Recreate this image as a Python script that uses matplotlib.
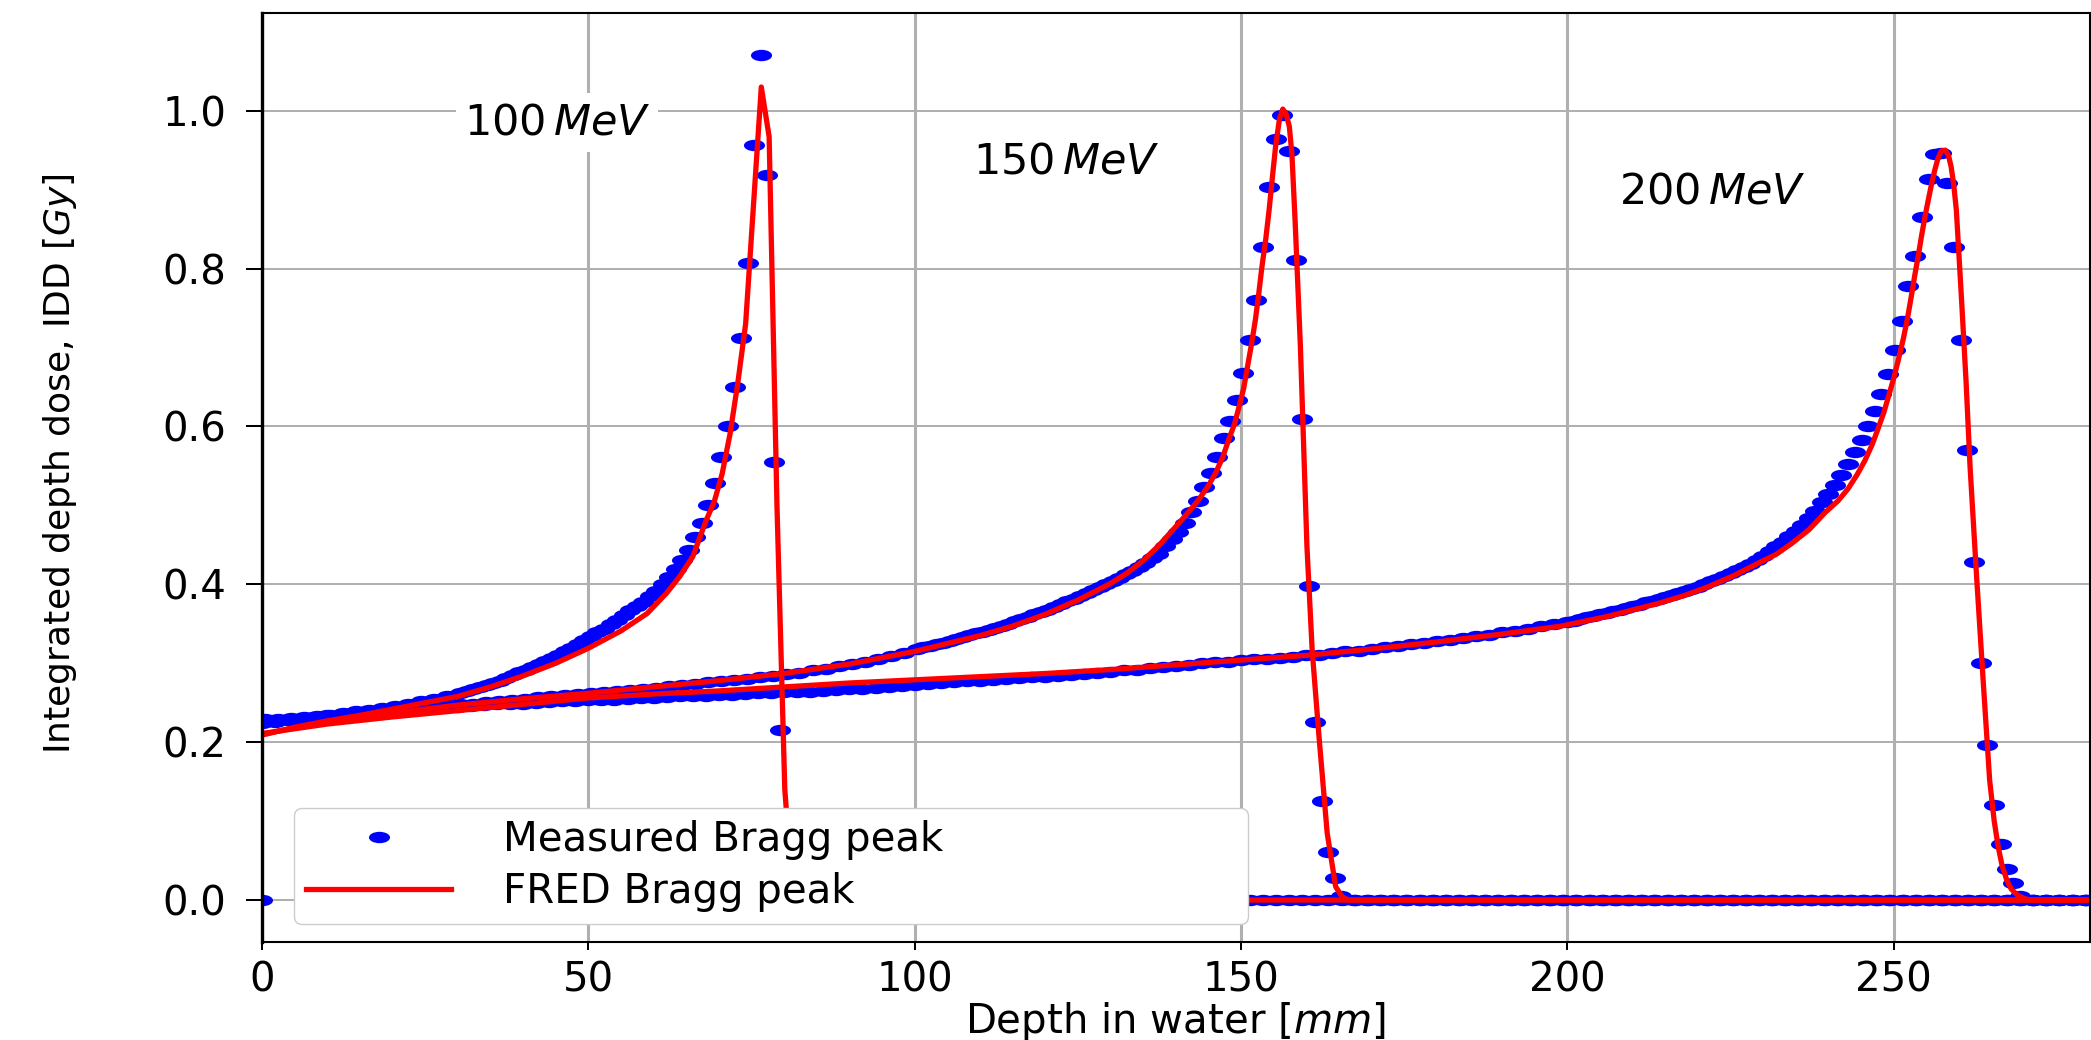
import numpy as np
import matplotlib.pyplot as plt
from matplotlib.markers import MarkerStyle
from matplotlib.transforms import Affine2D

# measured integrated depth dose (depth in mm, dose in Gy)
meas100_depth = np.concatenate([[0.0], np.arange(0.4, 30, 2), np.arange(30.4, 81, 1), np.arange(81.4, 281, 2)])
meas100_dose = [0.0,
                0.229, 0.230, 0.231, 0.232, 0.233, 0.235, 0.237, 0.239, 0.241, 0.243,
                0.246, 0.249, 0.252, 0.255, 0.258,
                0.262, 0.2645, 0.267, 0.2695, 0.272, 0.275, 0.278, 0.2815, 0.285, 0.2885,
                0.292, 0.2955, 0.299, 0.303, 0.307, 0.311, 0.315, 0.3195, 0.324, 0.329,
                0.334, 0.339, 0.344, 0.3495, 0.355, 0.361, 0.367, 0.3725, 0.378, 0.385, 0.392,
                0.400, 0.409, 0.419, 0.431, 0.444, 0.460, 0.478, 0.500, 0.528, 0.561,
                0.601, 0.650, 0.712, 0.807, 0.957, 1.070, 0.918, 0.555, 0.216, 0.020]
meas100_dose = meas100_dose + [0.0] * (len(meas100_depth) - len(meas100_dose))

meas150_depth = np.concatenate([np.arange(0.35, 100, 2), np.arange(100.35, 166, 1), np.arange(167.35, 281, 2)])
meas150_dose = [0.226, 0.227, 0.228, 0.229, 0.230, 0.232, 0.233, 0.235, 0.236, 0.238,
                0.240, 0.241, 0.243, 0.244, 0.246, 0.248, 0.249, 0.251, 0.252, 0.254,
                0.255, 0.257, 0.258, 0.260, 0.261, 0.262, 0.264, 0.265, 0.266, 0.268,
                0.269, 0.271, 0.272, 0.274, 0.276, 0.277, 0.279, 0.280, 0.282, 0.284,
                0.286, 0.288, 0.291, 0.293, 0.296, 0.299, 0.302, 0.305, 0.309, 0.313,
                0.318, 0.320, 0.322, 0.324, 0.326, 0.3285, 0.331, 0.3335, 0.336, 0.338,
                0.340, 0.3425, 0.345, 0.3475, 0.350, 0.353, 0.356, 0.359, 0.362, 0.365,
                0.368, 0.3715, 0.375, 0.3785, 0.382, 0.3855, 0.389, 0.3925, 0.396, 0.400,
                0.404, 0.4085, 0.413, 0.4175, 0.422, 0.4275, 0.433,
                0.439, 0.448, 0.457, 0.466, 0.478, 0.491, 0.506, 0.523, 0.541, 0.561,
                0.585, 0.607, 0.634, 0.668, 0.709, 0.760, 0.827, 0.903, 0.964, 0.994,
                0.949, 0.811, 0.610, 0.398, 0.226, 0.125, 0.061, 0.028, 0.005]
meas150_dose = meas150_dose + [0.0] * (len(meas150_depth) - len(meas150_dose))

meas200_peak_depth = [239.0, 240.0, 241.0, 242.0, 243.0, 244.1, 245.1, 246.1, 247.1, 248.1,
                      249.2, 250.2, 251.2, 252.2, 253.2, 254.3, 255.4, 256.3, 257.3, 258.2,
                      259.3, 260.3, 261.3, 262.3, 263.3, 264.3, 265.3, 266.4, 267.3, 268.3, 269.4]
meas200_depth = np.concatenate([np.arange(0, 200, 2), np.arange(200, 239, 1), meas200_peak_depth,
                                np.arange(271.4, 281, 2)])
meas200_dose = [0.224, 0.226, 0.228, 0.230, 0.232, 0.234, 0.235, 0.237, 0.238, 0.239,
                0.240, 0.241, 0.242, 0.243, 0.244, 0.245, 0.246, 0.247, 0.248, 0.249,
                0.249, 0.250, 0.251, 0.252, 0.252, 0.253, 0.254, 0.254, 0.255, 0.256,
                0.256, 0.257, 0.258, 0.258, 0.259, 0.260, 0.260, 0.261, 0.262, 0.262,
                0.263, 0.264, 0.264, 0.265, 0.266, 0.267, 0.268, 0.269, 0.270, 0.271,
                0.273, 0.274, 0.275, 0.276, 0.277, 0.278, 0.279, 0.280, 0.281, 0.282,
                0.283, 0.284, 0.285, 0.287, 0.288, 0.289, 0.291, 0.292, 0.294, 0.295,
                0.297, 0.298, 0.300, 0.301, 0.302, 0.304, 0.305, 0.306, 0.307, 0.308,
                0.310, 0.311, 0.313, 0.315, 0.316, 0.318, 0.320, 0.322, 0.324, 0.326,
                0.328, 0.330, 0.332, 0.334, 0.336, 0.339, 0.341, 0.344, 0.347, 0.350,
                0.352, 0.354, 0.356, 0.358, 0.360, 0.362, 0.364, 0.366, 0.368, 0.370,
                0.372, 0.374, 0.377, 0.379, 0.381, 0.384, 0.386, 0.389, 0.391, 0.394,
                0.397, 0.400, 0.404, 0.407, 0.411, 0.414, 0.418, 0.422, 0.426, 0.431,
                0.436, 0.442, 0.448, 0.454, 0.461, 0.468, 0.475, 0.484, 0.493,
                0.504, 0.515, 0.526, 0.539, 0.553, 0.567, 0.583, 0.600, 0.619, 0.641,
                0.667, 0.697, 0.734, 0.778, 0.816, 0.865, 0.913, 0.945, 0.947, 0.909,
                0.827, 0.709, 0.570, 0.428, 0.300, 0.197, 0.121, 0.071, 0.039, 0.021, 0.005]
meas200_dose = meas200_dose + [0.0] * (len(meas200_depth) - len(meas200_dose))

# FRED simulation
fred100_depth = [0, 5, 10, 15, 20, 25, 30, 35, 40, 45, 50, 55, 59, 62, 64, 66, 68, 69.3, 70.5,
                 71.7, 72.9, 74.1, 75.3, 76.5, 77.7, 78.9, 80.1, 81.3, 82.5, 280]
fred100_dose = [0.209, 0.219, 0.227, 0.234, 0.242, 0.250, 0.258, 0.270, 0.284, 0.300, 0.319,
                0.341, 0.363, 0.389, 0.410, 0.435, 0.480, 0.505, 0.540, 0.590, 0.655, 0.730,
                0.880, 1.030, 0.967, 0.500, 0.140, 0.010, 0.0, 0.0]

fred150_depth = [0, 5, 10, 15, 20, 25, 30, 40, 50, 60, 70, 80, 90, 100, 110, 115, 120, 125, 130,
                 132.5, 135, 137.5, 140, 142, 143.5, 145, 146.1, 147.2, 148.1, 149, 149.7, 150.4,
                 151, 151.6, 152.2, 152.7, 153.2, 153.8, 154.3, 154.8, 155.3, 155.9,
                 156.4, 156.9, 157.4, 157.8, 158.3, 159.1, 160.1, 160.9, 161.9, 163.2, 164.5, 165.5,
                 166.5, 280]
fred150_dose = [0.210, 0.218, 0.225, 0.231, 0.237, 0.242, 0.247, 0.255, 0.262, 0.270, 0.278,
                0.287, 0.299, 0.315, 0.335, 0.347, 0.362, 0.380, 0.401, 0.414, 0.430, 0.450,
                0.473, 0.492, 0.507, 0.525, 0.541, 0.561, 0.583, 0.603, 0.625, 0.648,
                0.676, 0.704, 0.735, 0.767, 0.802, 0.838, 0.874, 0.915, 0.955, 0.990,
                1.002, 0.996, 0.980, 0.945, 0.858, 0.701, 0.448, 0.317, 0.212, 0.085, 0.017, 0.004,
                0.0, 0.0]

fred200_depth = [0, 5, 10, 20, 30, 40, 50, 60, 70, 80, 90, 100, 110, 120, 130, 140, 150, 160,
                 170, 180, 190, 199, 206, 214, 218, 221.6, 225.5, 229.3, 232, 234.4, 237, 239.5,
                 241.5, 243, 244.4, 245.6, 246.7, 247.6, 248.5, 249.2, 250, 250.7, 251.5, 252.2,
                 252.7, 253.2, 253.8, 254.3, 254.8, 255.3, 255.8, 256.3, 256.8, 257.3, 257.9,
                 258.4, 258.8, 259.2, 259.6, 260.4, 261.1, 261.7, 262.7, 263.7, 264.7, 265.4,
                 266, 266.6, 267.3, 268, 269, 270, 271, 280]
fred200_dose = [0.211, 0.217, 0.223, 0.232, 0.240, 0.248, 0.256, 0.261, 0.265, 0.270, 0.275,
                0.279, 0.283, 0.287, 0.292, 0.298, 0.304, 0.310, 0.318, 0.327, 0.337, 0.347,
                0.359, 0.376, 0.386, 0.397, 0.411, 0.427, 0.438, 0.452, 0.469, 0.491,
                0.506, 0.521, 0.539, 0.557, 0.577, 0.597, 0.618, 0.638, 0.661, 0.684, 0.712, 0.741,
                0.765, 0.790, 0.818, 0.843, 0.866, 0.887, 0.907, 0.925, 0.940, 0.949, 0.950,
                0.943, 0.929, 0.906, 0.874, 0.760, 0.655, 0.549, 0.410, 0.279, 0.152, 0.100,
                0.068, 0.044, 0.026, 0.014, 0.006, 0.002, 0.0, 0.0]

energy_labels = [r'$100\,MeV$', r'$150\,MeV$', r'$200\,MeV$']
label_x = [45.2, 123.2, 222.2]
label_y = [0.985, 0.935, 0.898]

fig = plt.figure(figsize=(20.91, 10.40), dpi=100)
ax = fig.add_axes([262 / 2091, 97.7 / 1040, 1827.5 / 2091, 929.1 / 1040])

ell = MarkerStyle('o', transform=Affine2D().scale(1.85, 1.0))

ax.plot(meas100_depth, meas100_dose, ls='none', marker=ell, ms=8.2, mew=0, color='b',
        label='Measured Bragg peak')
ax.plot(meas150_depth, meas150_dose, ls='none', marker=ell, ms=8.2, mew=0, color='b')
ax.plot(meas200_depth, meas200_dose, ls='none', marker=ell, ms=8.2, mew=0, color='b')

ax.plot(fred100_depth, fred100_dose, color='r', lw=3.8, label='FRED Bragg peak')
ax.plot(fred150_depth, fred150_dose, color='r', lw=3.8)
ax.plot(fred200_depth, fred200_dose, color='r', lw=3.8)

for lab, x, y in zip(energy_labels, label_x, label_y):
    ax.text(x, y, lab, fontsize=31, ha='center', va='center',
            bbox=dict(facecolor='white', edgecolor='none', pad=6))

ax.set_xlim(0, 280)
ax.margins(y=0.05)

ax.xaxis.grid(True, color='#b0b0b0', lw=2.2)
ax.yaxis.grid(True, color='#b0b0b0', lw=1.45)
ax.set_axisbelow(True)

ax.tick_params(axis='both', labelsize=29, width=1.45)
ax.tick_params(axis='x', length=5.8, pad=7)
ax.tick_params(axis='y', length=11.5, pad=14)
for s in ax.spines.values():
    s.set_linewidth(1.5)
ax.spines['left'].set_linewidth(2.4)

ax.set_xlabel(r'Depth in water [$mm$]', fontsize=29, labelpad=0)
ax.set_ylabel(r'Integrated depth dose, IDD [$Gy$]', fontsize=26)
ax.yaxis.set_label_coords(-0.1, 0.515)

ax.legend(loc='lower left', bbox_to_anchor=(0.0175, 0.0197, 0.522, 0.1), mode='expand',
          borderaxespad=0, fontsize=29, handlelength=3.6, handletextpad=1.3,
          borderpad=0.3, labelspacing=0.3, framealpha=1, edgecolor='0.8')

fig.savefig('out.png', dpi=100)
